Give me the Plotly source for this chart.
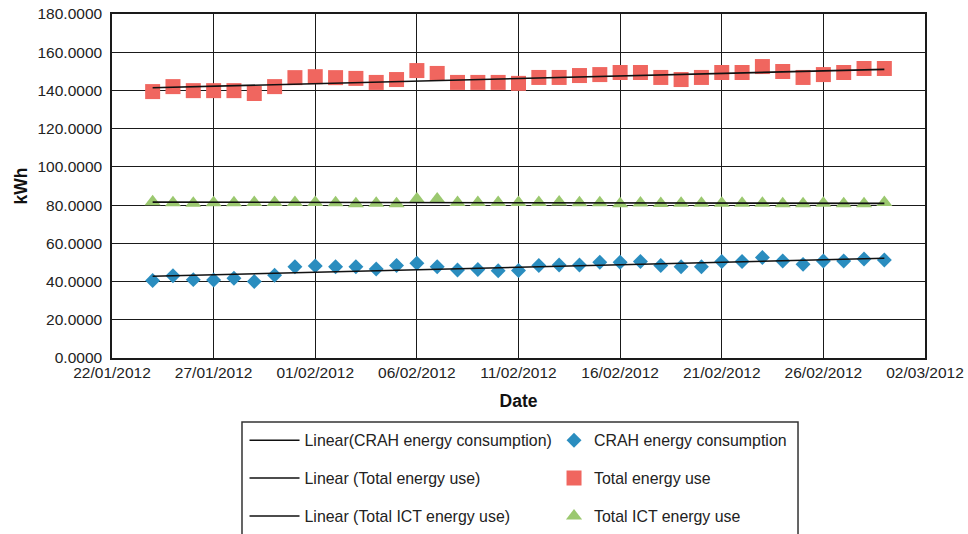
import numpy as np
import pandas as pd
import plotly.graph_objects as go

# Daily readings, 24 Jan – 29 Feb 2012
dates = pd.date_range("2012-01-24", "2012-02-29", freq="D")

crah_energy = [
    40.5, 43.0, 41.0, 40.8, 41.7, 40.0, 43.3, 47.8, 48.2, 47.8,
    47.8, 46.6, 48.4, 49.6, 47.8, 46.1, 46.3, 45.6, 45.8, 48.4,
    48.7, 48.7, 50.1, 50.1, 50.5, 48.4, 47.8, 47.8, 50.5, 50.5,
    52.6, 50.8, 49.0, 50.8, 50.8, 51.8, 51.3,
]
total_energy = [
    139.4, 142.0, 139.9, 139.9, 139.9, 138.4, 142.0, 146.7, 147.2, 146.7,
    146.3, 144.2, 145.7, 150.4, 148.9, 144.2, 144.2, 144.2, 143.7, 146.8,
    146.8, 147.8, 148.3, 149.4, 149.4, 146.8, 145.7, 146.8, 149.4, 149.4,
    152.5, 149.9, 146.8, 148.3, 149.4, 151.5, 151.5,
]
ict_energy = [
    81.7, 81.3, 81.0, 81.3, 81.3, 81.4, 81.4, 81.4, 81.4, 81.3,
    80.7, 81.0, 80.7, 83.2, 83.2, 81.4, 81.4, 81.4, 81.4, 81.4,
    81.6, 81.3, 81.3, 80.7, 81.1, 80.8, 81.0, 81.0, 81.0, 81.0,
    81.0, 80.7, 80.7, 81.0, 80.7, 80.7, 81.4,
]

series = [
    # name, values, symbol, size, colour, trend label
    ("CRAH energy consumption", crah_energy, "diamond", 11.5, "#2A8DBF",
     "Linear(CRAH energy consumption)"),
    ("Total energy use", total_energy, "square", 15, "#F0665F",
     "Linear (Total energy use)"),
    ("Total ICT energy use", ict_energy, "triangle-up", 14, "#9BC86F",
     "Linear (Total ICT energy use)"),
]

FONT = "Arial, Liberation Sans, sans-serif"
days = np.arange(len(dates), dtype=float)

fig = go.Figure()

# Scatter markers
for i, (name, vals, sym, size, col, _) in enumerate(series):
    fig.add_trace(go.Scatter(
        x=dates, y=vals, mode="markers", name=name,
        marker=dict(symbol=sym, size=size, color=col, line=dict(width=0)),
        legend="legend2", legendgroup=name, legendrank=i + 1,
    ))

# Least-squares linear trend lines drawn over the markers
for i, (name, vals, _, _, _, trend_name) in enumerate(series):
    slope, intercept = np.polyfit(days, np.asarray(vals, dtype=float), 1)
    fit = intercept + slope * days
    fig.add_trace(go.Scatter(
        x=[dates[0], dates[-1]], y=[fit[0], fit[-1]], mode="lines",
        name=trend_name, line=dict(color="#111111", width=1.6),
        legend="legend", legendgroup=trend_name, legendrank=i + 1,
    ))

legend_common = dict(
    orientation="v", traceorder="grouped", tracegroupgap=14.2,
    font=dict(family=FONT, size=15.9, color="#222222"),
    bgcolor="rgba(0,0,0,0)", borderwidth=0,
    xanchor="left", yanchor="top", y=-0.19,
)

fig.update_layout(
    width=968, height=534,
    margin=dict(l=112, r=43, t=14, b=176, autoexpand=False),
    paper_bgcolor="white", plot_bgcolor="white",
    font=dict(family=FONT, size=15.5, color="#222222"),
    showlegend=True,
    legend=dict(**legend_common, x=0.163, itemwidth=50),
    legend2=dict(**legend_common, x=0.5437, itemwidth=30),
    xaxis=dict(
        type="date", automargin=False,
        range=["2012-01-22", "2012-03-02"],
        tick0="2012-01-22", dtick=5 * 86400000,
        tickformat="%d/%m/%Y",
        showgrid=True, gridcolor="#1a1a1a", gridwidth=1.3,
        showline=True, linecolor="#1a1a1a", linewidth=1.5, mirror=True,
        ticks="", tickfont=dict(family=FONT, size=15.5, color="#222222"),
        title=dict(text="<b>Date</b>", font=dict(family=FONT, size=17.5, color="#111111"),
                   standoff=14),
        zeroline=False,
    ),
    yaxis=dict(
        automargin=False,
        range=[0, 180], dtick=20, tick0=0,
        tickformat=".4f",
        showgrid=True, gridcolor="#1a1a1a", gridwidth=1.3,
        showline=True, linecolor="#1a1a1a", linewidth=1.5, mirror=True,
        ticks="", ticklabelstandoff=5,
        tickfont=dict(family=FONT, size=15.5, color="#222222"),
        title=dict(text="<b>kWh</b>", font=dict(family=FONT, size=17.5, color="#111111"),
                   standoff=5),
        zeroline=False,
    ),
    shapes=[dict(
        type="rect", xref="paper", yref="paper",
        x0=0.1599, x1=0.8438, y0=-0.56, y1=-0.186,
        line=dict(color="#333333", width=1.5), fillcolor="rgba(0,0,0,0)",
    )],
)

fig.write_html("out.html")
